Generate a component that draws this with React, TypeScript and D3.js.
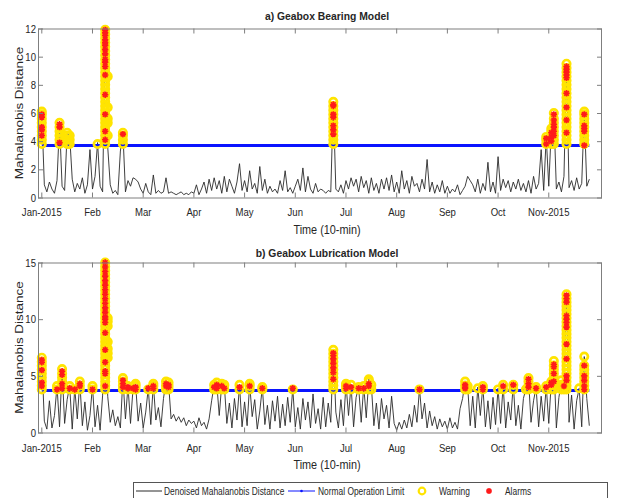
import React from "react";
import * as d3 from "d3";

// month index on the x axis: 0 = Jan-2015 ... 10 = Nov-2015
const monthLabels = ["Jan-2015", "Feb", "Mar", "Apr", "May", "Jun", "Jul", "Aug", "Sep", "Oct", "Nov-2015"];
const sampleStep = 0.05; // months between two samples of the denoised series
const limitValue = 3.7;
const limitSpan = [0, 10.8];

const bearingYTicks = [0, 2, 4, 6, 8, 10, 12];
const lubricationYTicks = [0, 5, 10, 15];

// denoised Mahalanobis distance, gearbox bearing model (one row per month)
const bearingMD = [
  6.0, 0.9, 0.4, 1.1, 0.6, 0.3, 1.2, 5.3, 0.8, 0.5, 4.6, 4.4, 1.3, 0.4, 1.0, 0.6, 1.4, 0.3, 0.9, 3.4,
  0.6, 1.5, 3.9, 0.8, 0.4, 12.0, 3.6, 0.9, 0.3, 0.5, 0.2, 3.3, 4.6, 0.4, 1.2, 0.8, 1.4, 1.3, 1.1, 0.6,
  0.3, 1.0, 0.4, 0.2, 1.6, 0.3, 0.5, 0.3, 0.4, 1.4, 0.3, 0.4, 0.3, 0.2, 0.3, 0.4, 0.2, 0.3, 0.2, 0.4,
  0.3, 0.9, 0.2, 0.6, 1.1, 0.3, 1.3, 0.5, 1.4, 0.6, 1.2, 0.3, 1.5, 0.4, 1.3, 0.8, 0.3, 1.1, 2.4, 0.5,
  1.2, 0.4, 1.9, 0.6, 1.0, 0.3, 2.2, 0.5, 1.3, 0.3, 0.8, 0.4, 0.6, 0.3, 1.2, 0.5, 1.9, 0.4, 0.7, 0.3,
  0.8, 1.3, 0.5, 2.1, 0.4, 1.5, 0.6, 0.3, 1.0, 0.4, 0.6, 0.5, 0.3, 0.5, 0.4, 6.8, 0.6, 0.4, 0.9, 0.3,
  1.2, 0.6, 1.4, 0.8, 1.3, 0.4, 1.5, 0.7, 1.2, 0.3, 1.4, 0.5, 1.0, 0.3, 1.3, 0.6, 1.4, 0.5, 1.6, 0.4,
  1.1, 0.3, 1.9, 0.6, 1.2, 0.3, 1.5, 0.8, 1.0, 0.4, 1.3, 0.6, 2.7, 0.4, 1.1, 0.3, 0.9, 0.4, 1.2, 0.3,
  0.8, 0.3, 0.6, 0.4, 0.9, 0.2, 0.5, 0.8, 1.5, 1.2, 0.9, 0.4, 1.3, 0.3, 1.0, 0.5, 2.5, 0.4, 1.1, 0.3,
  2.9, 0.5, 1.3, 0.7, 1.2, 0.4, 1.1, 0.6, 1.3, 0.5, 1.0, 0.4, 1.2, 0.3, 1.5, 0.6, 1.0, 3.4, 0.5, 4.3,
  0.8, 4.9, 6.0, 0.6, 1.1, 0.4, 1.5, 9.5, 0.7, 1.2, 0.5, 1.4, 0.6, 1.0, 6.1, 0.8, 1.3,
];

// denoised Mahalanobis distance, gearbox lubrication model
const lubricationMD = [
  6.6, 1.0, 0.3, 2.8, 0.4, 1.5, 4.1, 0.5, 5.6, 0.8, 2.9, 4.1, 0.3, 3.9, 1.2, 4.5, 0.6, 2.7, 0.2, 1.5,
  4.1, 0.5, 2.4, 0.2, 3.3, 15.1, 3.2, 0.9, 2.0, 0.6, 1.4, 0.4, 4.8, 1.2, 4.1, 0.8, 3.9, 4.3, 1.0, 2.6,
  0.4, 1.8, 3.9, 0.7, 4.3, 1.1, 2.2, 0.5, 3.0, 4.5, 4.4, 1.2, 1.6, 1.0, 1.4, 0.9, 1.3, 0.6, 1.1, 0.8,
  1.0, 0.4, 1.3, 0.6, 0.9, 0.3, 1.2, 2.8, 4.2, 4.4, 1.5, 4.3, 4.2, 0.8, 2.6, 0.4, 3.0, 1.1, 4.2, 0.5,
  2.7, 0.6, 4.3, 1.4, 2.9, 0.3, 1.9, 4.0, 0.7, 2.4, 0.3, 2.8, 1.0, 3.2, 0.4, 2.5, 0.6, 3.1, 0.9, 3.9,
  0.5, 2.2, 0.3, 3.0, 1.1, 2.7, 0.4, 3.4, 0.8, 2.1, 0.3, 3.1, 0.5, 2.6, 0.9, 7.3, 1.8, 0.4, 2.9, 0.6,
  4.3, 1.5, 4.2, 0.5, 3.1, 4.0, 0.9, 4.1, 1.3, 4.7, 4.2, 0.6, 2.6, 0.3, 3.0, 1.2, 2.4, 0.4, 3.2, 0.8,
  0.2, 0.9, 0.3, 1.1, 0.4, 1.6, 0.5, 2.4, 0.9, 3.9, 1.2, 2.6, 0.4, 1.9, 0.6, 1.4, 0.3, 1.2, 0.5, 1.0,
  0.3, 1.3, 0.4, 0.9, 0.3, 2.1, 3.0, 4.5, 4.1, 0.6, 3.2, 0.4, 4.0, 1.5, 4.1, 0.5, 2.8, 0.3, 3.1, 0.7,
  3.9, 0.8, 4.2, 0.4, 2.7, 1.1, 4.3, 0.6, 2.4, 0.3, 3.0, 3.9, 4.8, 0.9, 2.8, 4.0, 0.5, 3.2, 1.0, 4.1,
  0.8, 4.5, 6.3, 0.4, 3.1, 4.6, 4.2, 12.3, 0.9, 3.3, 0.3, 2.8, 3.9, 0.5, 6.7, 3.0, 0.6,
];

type Spike = { m: number; warn: number[]; alarm: number[] };

// points above the limit: warnings (yellow o) and alarms (red *)
const bearingSpikes: Spike[] = [
  { m: 0, warn: [3.8, 4.1, 4.4, 4.7, 5.0, 5.3, 5.6, 5.9, 6.1], alarm: [5.9, 5.7, 5.0, 4.8, 4.4] },
  { m: 0.35, warn: [3.8, 4.1, 4.4, 4.7, 5.0, 5.3], alarm: [5.2, 5.0, 3.9] },
  { m: 0.5, warn: [3.8, 4.1, 4.4, 4.6], alarm: [] },
  { m: 0.55, warn: [3.8, 4.1, 4.4], alarm: [] },
  { m: 1.1, warn: [3.8], alarm: [] },
  {
    m: 1.25,
    warn: [3.8, 4.1, 4.4, 4.7, 5.0, 5.3, 5.6, 5.9, 6.2, 6.5, 6.8, 7.1, 7.4, 7.7, 8.0, 8.3, 8.6, 8.9, 9.2, 9.5, 9.8, 10.1, 10.4, 10.7, 11.0, 11.3, 11.6, 11.9],
    alarm: [11.9, 11.7, 11.5, 11.2, 11.0, 10.8, 10.5, 10.2, 9.8, 9.6, 9.3, 8.7, 7.3, 5.9, 4.7, 4.1],
  },
  { m: 1.3, warn: [4.4, 5.3, 5.6, 6.4, 8.6], alarm: [] },
  { m: 1.6, warn: [3.8, 4.1, 4.4, 4.6], alarm: [4.5] },
  { m: 5.75, warn: [3.8, 4.1, 4.4, 4.7, 5.0, 5.3, 5.6, 5.9, 6.2, 6.5, 6.8], alarm: [6.6, 6.5, 5.9, 5.7, 5.1, 4.8, 4.5] },
  { m: 9.95, warn: [3.8, 4.1, 4.3], alarm: [4.2, 3.8] },
  { m: 10.05, warn: [3.8, 4.1, 4.4, 4.7, 4.9], alarm: [4.6, 4.3, 4.0] },
  { m: 10.1, warn: [3.8, 4.1, 4.4, 4.7, 5.0, 5.3, 5.6, 6.0], alarm: [5.9, 5.5, 5.2, 5.0, 4.7, 4.4] },
  {
    m: 10.35,
    warn: [3.8, 4.1, 4.4, 4.7, 5.0, 5.3, 5.6, 5.9, 6.2, 6.5, 6.8, 7.1, 7.4, 7.7, 8.0, 8.3, 8.6, 8.9, 9.2, 9.5],
    alarm: [9.3, 9.1, 8.9, 8.7, 8.5, 7.4, 6.4, 5.5, 4.6],
  },
  { m: 10.7, warn: [3.8, 4.1, 4.4, 4.7, 5.0, 5.3, 5.6, 5.9, 6.1], alarm: [5.9, 5.1, 4.9, 4.7, 3.7] },
];

const lubricationSpikes: Spike[] = [
  { m: 0, warn: [3.8, 4.15, 4.5, 4.85, 5.2, 5.55, 5.9, 6.25, 6.6], alarm: [6.4, 6.2, 5.5, 4.4, 4.1] },
  { m: 0.3, warn: [3.8, 4.1], alarm: [3.8] },
  { m: 0.4, warn: [3.8, 4.15, 4.5, 4.85, 5.2, 5.6], alarm: [5.4, 5.1, 4.3, 3.9] },
  { m: 0.55, warn: [3.8, 4.1], alarm: [3.9] },
  { m: 0.65, warn: [3.8], alarm: [3.8] },
  { m: 0.75, warn: [3.8, 4.15, 4.5], alarm: [4.3, 4.1] },
  { m: 1.0, warn: [3.8, 4.1], alarm: [3.8] },
  {
    m: 1.25,
    warn: [3.8, 4.15, 4.5, 4.85, 5.2, 5.55, 5.9, 6.25, 6.6, 6.95, 7.3, 7.65, 8.0, 8.35, 8.7, 9.05, 9.4, 9.75, 10.1, 10.45, 10.8, 11.15, 11.5, 11.85, 12.2, 12.55, 12.9, 13.25, 13.6, 13.95, 14.3, 14.65, 15.0],
    alarm: [15.0, 14.6, 14.2, 13.8, 13.4, 13.0, 12.6, 12.2, 11.8, 11.4, 11.0, 10.6, 10.2, 10.0, 9.7, 8.8, 7.3, 6.2, 5.4, 5.2, 4.1],
  },
  { m: 1.3, warn: [6.6, 7.0, 7.4, 8.0, 9.4, 9.8, 10.1], alarm: [] },
  { m: 1.6, warn: [3.8, 4.15, 4.5, 4.8], alarm: [4.6, 4.3, 4.0] },
  { m: 1.7, warn: [3.8, 4.1], alarm: [4.0, 3.9] },
  { m: 1.8, warn: [3.8], alarm: [3.9] },
  { m: 1.85, warn: [3.8, 4.1, 4.3], alarm: [4.0, 3.8] },
  { m: 2.1, warn: [3.8], alarm: [3.9] },
  { m: 2.2, warn: [3.8, 4.1, 4.3], alarm: [4.1, 3.9] },
  { m: 2.45, warn: [3.8, 4.15, 4.5], alarm: [4.3, 4.1] },
  { m: 2.5, warn: [3.8, 4.1, 4.4], alarm: [4.2, 4.0] },
  { m: 3.4, warn: [3.8, 4.2], alarm: [4.0] },
  { m: 3.45, warn: [3.8, 4.1, 4.4], alarm: [4.2, 3.9] },
  { m: 3.55, warn: [3.8, 4.1, 4.3], alarm: [4.1] },
  { m: 3.6, warn: [3.8, 4.2], alarm: [3.9] },
  { m: 3.9, warn: [3.8, 4.2], alarm: [4.0] },
  { m: 4.1, warn: [3.8, 4.1, 4.3], alarm: [4.1] },
  { m: 4.35, warn: [3.8, 4.0], alarm: [3.9] },
  { m: 4.95, warn: [3.8], alarm: [3.9] },
  { m: 5.75, warn: [3.8, 4.15, 4.5, 4.85, 5.2, 5.55, 5.9, 6.25, 6.6, 6.95, 7.3], alarm: [7.0, 6.8, 6.5, 6.1, 5.7, 5.3, 4.7] },
  { m: 6.0, warn: [3.8, 4.1, 4.3], alarm: [4.1, 3.9] },
  { m: 6.1, warn: [3.8, 4.2], alarm: [4.0] },
  { m: 6.25, warn: [3.8, 4.0], alarm: [3.9] },
  { m: 6.35, warn: [3.8, 4.1], alarm: [3.9] },
  { m: 6.45, warn: [3.8, 4.15, 4.5, 4.7], alarm: [4.3, 4.1] },
  { m: 6.5, warn: [3.8, 4.2], alarm: [] },
  { m: 7.45, warn: [3.8], alarm: [3.8] },
  { m: 8.35, warn: [3.8, 4.15, 4.5], alarm: [4.2, 4.0, 3.9] },
  { m: 8.4, warn: [3.8, 4.1], alarm: [] },
  { m: 8.6, warn: [3.9], alarm: [] },
  { m: 8.7, warn: [3.8, 4.1], alarm: [4.0, 3.8] },
  { m: 9.0, warn: [3.8], alarm: [] },
  { m: 9.1, warn: [3.8, 4.2], alarm: [4.1] },
  { m: 9.3, warn: [3.8, 4.2], alarm: [4.2] },
  { m: 9.55, warn: [3.8], alarm: [] },
  { m: 9.6, warn: [3.8, 4.15, 4.5, 4.8], alarm: [4.7, 4.3, 4.0] },
  { m: 9.75, warn: [3.8, 4.0], alarm: [3.9] },
  { m: 9.95, warn: [3.8, 4.1], alarm: [4.0] },
  { m: 10.05, warn: [3.8, 4.15, 4.5], alarm: [4.4, 4.2] },
  { m: 10.1, warn: [3.8, 4.15, 4.5, 4.85, 5.2, 5.55, 5.9, 6.3], alarm: [6.0, 5.8, 5.2, 4.5] },
  { m: 10.25, warn: [3.8, 4.2, 4.6], alarm: [] },
  { m: 10.3, warn: [3.8, 4.2], alarm: [4.1] },
  {
    m: 10.35,
    warn: [3.8, 4.15, 4.5, 4.85, 5.2, 5.55, 5.9, 6.25, 6.6, 6.95, 7.3, 7.65, 8.0, 8.35, 8.7, 9.05, 9.4, 9.75, 10.1, 10.45, 10.8, 11.15, 11.5, 11.85, 12.2],
    alarm: [12.1, 11.8, 11.5, 10.3, 10.0, 9.7, 9.3, 7.8, 6.5, 5.0, 4.6],
  },
  { m: 10.6, warn: [3.9], alarm: [] },
  { m: 10.7, warn: [3.8, 4.15, 4.5, 4.85, 5.2, 5.55, 5.9, 6.7], alarm: [5.9, 5.0, 4.6, 4.1, 3.8] },
];

const legendLabels = ["Denoised Mahalanobis Distance", "Normal Operation Limit", "Warning", "Alarms"];

const W = 619;
const H = 498;
const FONT = "'Liberation Sans', Arial, Helvetica, sans-serif";
const SX = 0.87; // the picture is squeezed horizontally
const YELLOW = "#ffe400";
const RED = "#ff1a1a";
const BLUE = "#0a14ff";
const AXIS = "#7f7f7f";
const INK = "#262626";

const xScale = d3.scaleLinear().domain([-0.075, 11.05]).range([38, 602]);

function SText({ x, y, size, anchor = "middle", bold = false, sx = SX, children }: any) {
  return (
    <g transform={`translate(${x},${y}) scale(${sx},1)`}>
      <text textAnchor={anchor} fontSize={size} fontWeight={bold ? "bold" : "normal"} fontFamily={FONT} fill={INK}>
        {children}
      </text>
    </g>
  );
}

function asterisk(cx: number, cy: number, r = 3.2) {
  const d = r * 0.72;
  return `M${cx - r},${cy}h${2 * r}M${cx},${cy - r}v${2 * r}M${cx - d},${cy - d}l${2 * d},${2 * d}M${cx - d},${cy + d}l${2 * d},${-2 * d}`;
}

function Panel({ title, values, spikes, yMax, yTicks, top, bottom, titleY, tickY, xLabelY }: any) {
  const y = d3.scaleLinear().domain([0, yMax]).range([bottom, top]);
  const left = xScale.range()[0];
  const right = xScale.range()[1];
  const path = d3
    .line<number>()
    .x((d, i) => xScale(i * sampleStep))
    .y((d) => y(d))(values);
  const midY = (top + bottom) / 2;

  return (
    <g>
      <SText x={327} y={titleY} size={11.5} bold sx={0.9}>
        {title}
      </SText>
      {/* plot area */}
      <rect x={left} y={top} width={right - left} height={bottom - top} fill="#fff" />
      <path d={path || ""} fill="none" stroke="#2a2a2a" strokeWidth={0.9} />
      <line
        x1={xScale(limitSpan[0])}
        x2={xScale(limitSpan[1])}
        y1={y(limitValue)}
        y2={y(limitValue)}
        stroke={BLUE}
        strokeWidth={3}
      />
      {spikes.map((s: Spike, i: number) =>
        s.warn.map((v, j) => (
          <circle key={`w${i}-${j}`} cx={xScale(s.m)} cy={y(v)} r={3.7} fill="none" stroke={YELLOW} strokeWidth={2.7} />
        ))
      )}
      <path
        d={spikes.map((s: Spike) => s.alarm.map((v) => asterisk(xScale(s.m), y(v))).join("")).join("")}
        fill="none"
        stroke={RED}
        strokeWidth={1.6}
      />
      {/* box + inward ticks */}
      <rect x={left + 0.5} y={top + 0.5} width={right - left - 1} height={bottom - top} fill="none" stroke={AXIS} strokeWidth={1} />
      {monthLabels.map((lab, i) => (
        <g key={lab}>
          <line x1={xScale(i)} x2={xScale(i)} y1={top} y2={top + 5} stroke={AXIS} />
          <line x1={xScale(i)} x2={xScale(i)} y1={bottom} y2={bottom - 5} stroke={AXIS} />
          <SText x={xScale(i)} y={tickY} size={11}>
            {lab}
          </SText>
        </g>
      ))}
      {yTicks.map((t: number) => (
        <g key={t}>
          <line x1={left} x2={left + 5} y1={y(t) + 0.5} y2={y(t) + 0.5} stroke={AXIS} />
          <line x1={right} x2={right - 5} y1={y(t) + 0.5} y2={y(t) + 0.5} stroke={AXIS} />
          <SText x={36} y={y(t) + 4} size={11} anchor="end">
            {t}
          </SText>
        </g>
      ))}
      <SText x={327} y={xLabelY} size={12.5}>
        Time (10-min)
      </SText>
      <g transform={`translate(22.5,${midY}) rotate(-90) scale(1,${SX})`}>
        <text textAnchor="middle" fontSize={13.5} fontFamily={FONT} fill={INK}>
          Mahalanobis Distance
        </text>
      </g>
    </g>
  );
}

function Legend() {
  const cy = 491;
  return (
    <g>
      <rect x={133.5} y={482.5} width={474} height={24} fill="#fff" stroke="#555" strokeWidth={1} />
      <line x1={136} x2={162} y1={cy} y2={cy} stroke="#2a2a2a" strokeWidth={1} />
      <SText x={164} y={cy + 3.5} size={10.5} anchor="start" sx={0.8}>
        {legendLabels[0]}
      </SText>
      <line x1={288} x2={315} y1={cy} y2={cy} stroke={BLUE} strokeWidth={1} />
      <circle cx={301.5} cy={cy} r={1.3} fill={BLUE} />
      <SText x={318} y={cy + 3.5} size={10.5} anchor="start" sx={0.8}>
        {legendLabels[1]}
      </SText>
      <circle cx={422} cy={cy} r={3.3} fill="none" stroke={YELLOW} strokeWidth={2.2} />
      <SText x={439} y={cy + 3.5} size={10.5} anchor="start" sx={0.8}>
        {legendLabels[2]}
      </SText>
      <path d={asterisk(489, cy, 3)} stroke={RED} strokeWidth={1.6} fill="none" />
      <SText x={505} y={cy + 3.5} size={10.5} anchor="start" sx={0.8}>
        {legendLabels[3]}
      </SText>
    </g>
  );
}

export default function App() {
  return (
    <svg width={W} height={H} style={{ position: "absolute", left: 0, top: 0, display: "block" }}>
      <rect width={W} height={H} fill="#fff" />
      <Panel
        title="a) Geabox Bearing Model"
        values={bearingMD}
        spikes={bearingSpikes}
        yMax={12}
        yTicks={bearingYTicks}
        top={28.5}
        bottom={197.5}
        titleY={20}
        tickY={216}
        xLabelY={234}
      />
      <Panel
        title="b) Geabox Lubrication Model"
        values={lubricationMD}
        spikes={lubricationSpikes}
        yMax={15}
        yTicks={lubricationYTicks}
        top={262.5}
        bottom={432.5}
        titleY={257}
        tickY={452}
        xLabelY={469}
      />
      <Legend />
    </svg>
  );
}
